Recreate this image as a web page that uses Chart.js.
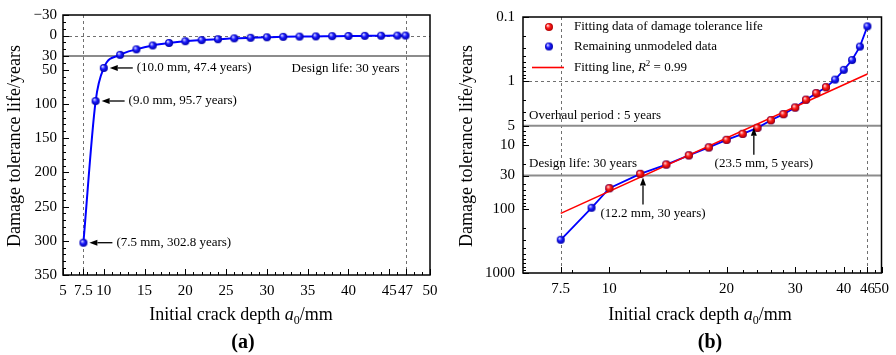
<!DOCTYPE html>
<html>
<head>
<meta charset="utf-8">
<script src="https://cdn.jsdelivr.net/npm/chart.js@4.4.1/dist/chart.umd.min.js"></script>
<style>
  html, body { margin: 0; padding: 0; background: #fff; }
  #wrap { position: relative; width: 896px; height: 355px; }
  canvas { position: absolute; top: 0; }
  #chartA { left: 0; }
  #chartB { left: 448px; }
</style>
</head>
<body>
<div id="wrap">
  <canvas id="chartA" width="448" height="355"></canvas>
  <canvas id="chartB" width="448" height="355"></canvas>
</div>
<script>
// initial crack depth (mm) and damage tolerance life (years)
const crackDepth = [7.5, 9, 10, 12, 14, 16, 18, 20, 22, 24, 26, 28, 30, 32, 34, 36, 38, 40, 42, 44, 46, 47];
const lifeYears = [302.8, 95.7, 47.4, 28.2, 20.2, 14.5, 10.9, 8.3, 6.7, 5.4, 4.1, 3.3, 2.6, 1.96, 1.55, 1.25, 0.95, 0.67, 0.47, 0.29, 0.14, 0.05];

// range of points used for the fit in (b)
const fitFrom = 10;
const fitTo = 36;
// ends of the fitting line (log-log straight line)
const fitLineX = [7.5, 46];
const fitLineY = [117, 0.78];

// tick labels
const xTicksA = [5, 7.5, 10, 15, 20, 25, 30, 35, 40, 45, 47, 50];
const yTicksA = [-30, 0, 30, 50, 100, 150, 200, 250, 300, 350];
const xTicksB = [7.5, 10, 20, 30, 40, 46, 50];
const yTicksB = [0.1, 1, 5, 10, 30, 100, 1000];

// reference values
const designLife = 30;
const overhaulPeriod = 5;

// annotated points
const notesA = [[10, 47.4, '(10.0 mm, 47.4 years)'], [9, 95.7, '(9.0 mm, 95.7 years)'], [7.5, 302.8, '(7.5 mm, 302.8 years)']];
const notesB = [[23.5, 5, '(23.5 mm, 5 years)'], [12.2, 30, '(12.2 mm, 30 years)']];

const SERIF = '"Liberation Serif", "Times New Roman", serif';
Chart.defaults.font.family = SERIF;
Chart.defaults.color = '#000';

function sphere(light, mid, dark, r) {
    const c = document.createElement('canvas');
    const s = 2 * r + 2;
    c.width = c.height = s;
    const g = c.getContext('2d');
    const m = s / 2;
    const grd = g.createRadialGradient(m - r * 0.35, m - r * 0.4, r * 0.1, m, m, r);
    grd.addColorStop(0, light);
    grd.addColorStop(0.45, mid);
    grd.addColorStop(1, dark);
    g.fillStyle = grd;
    g.beginPath();
    g.arc(m, m, r, 0, Math.PI * 2);
    g.fill();
    return c;
}
const blueBall = sphere('#d6d6ff', '#1a1aff', '#0000a8', 4);
const redBall = sphere('#ffd6d6', '#ff1a1a', '#b00000', 4);

function seq(a, b, step) {
    const out = [];
    for (let v = a; v <= b + 1e-9; v += step) out.push(+v.toFixed(6));
    return out;
}
function logMinors(lo, hi) {
    const out = [];
    for (let d = lo; d < hi; d *= 10) for (let k = 2; k <= 9; k++) out.push(k * d);
    return out;
}

function richText(ctx, parts, x, y, align) {
    let w = 0;
    parts.forEach(p => { ctx.font = p.font; p.w = ctx.measureText(p.t).width; w += p.w; });
    let cx = align === 'center' ? x - w / 2 : align === 'right' ? x - w : x;
    ctx.textAlign = 'left';
    parts.forEach(p => { ctx.font = p.font; ctx.fillText(p.t, cx, y + (p.dy || 0)); cx += p.w; });
}

function arrow(ctx, x1, y1, x2, y2) {
    const ang = Math.atan2(y2 - y1, x2 - x1), hl = 8, hw = 3;
    const bx = x2 - hl * Math.cos(ang), by = y2 - hl * Math.sin(ang);
    ctx.strokeStyle = '#000';
    ctx.fillStyle = '#000';
    ctx.lineWidth = 1.3;
    ctx.beginPath(); ctx.moveTo(x1, y1); ctx.lineTo(bx, by); ctx.stroke();
    ctx.beginPath();
    ctx.moveTo(x2, y2);
    ctx.lineTo(bx - hw * Math.sin(ang), by + hw * Math.cos(ang));
    ctx.lineTo(bx + hw * Math.sin(ang), by - hw * Math.cos(ang));
    ctx.closePath();
    ctx.fill();
}

function xTitle(ctx, x) {
    richText(ctx, [
        { t: 'Initial crack depth ', font: '18px ' + SERIF },
        { t: 'a', font: 'italic 18px ' + SERIF },
        { t: '0', font: '12px ' + SERIF, dy: 4 },
        { t: '/mm', font: '18px ' + SERIF }
    ], x, 320, 'center');
}

function decoPlugin(cfg) {
    return {
        id: 'deco',
        beforeDatasetsDraw(chart) {
            const { ctx, chartArea: a } = chart;
            const x = chart.scales.x, y = chart.scales.y;
            ctx.save();
            ctx.beginPath();
            ctx.rect(a.left, a.top, a.right - a.left, a.bottom - a.top);
            ctx.clip();
            ctx.strokeStyle = '#707070';
            ctx.lineWidth = 1;
            ctx.setLineDash([3, 3]);
            cfg.dashX.forEach(v => {
                const px = Math.round(x.getPixelForValue(v)) + 0.5;
                ctx.beginPath(); ctx.moveTo(px, a.top); ctx.lineTo(px, a.bottom); ctx.stroke();
            });
            cfg.dashY.forEach(v => {
                const py = Math.round(y.getPixelForValue(v)) + 0.5;
                ctx.beginPath(); ctx.moveTo(a.left, py); ctx.lineTo(a.right, py); ctx.stroke();
            });
            ctx.setLineDash([]);
            ctx.strokeStyle = '#8c8c8c';
            ctx.lineWidth = 2;
            cfg.solidY.forEach(v => {
                const py = y.getPixelForValue(v);
                ctx.beginPath(); ctx.moveTo(a.left, py); ctx.lineTo(a.right, py); ctx.stroke();
            });
            ctx.restore();
        },
        afterDraw(chart) {
            const { ctx, chartArea: a } = chart;
            const x = chart.scales.x, y = chart.scales.y;
            ctx.save();
            // inward ticks
            ctx.strokeStyle = '#000';
            ctx.lineWidth = 1;
            const tickX = (vals, len) => vals.forEach(v => {
                const px = Math.round(x.getPixelForValue(v)) + 0.5;
                ctx.beginPath(); ctx.moveTo(px, a.bottom); ctx.lineTo(px, a.bottom - len); ctx.stroke();
            });
            const tickY = (vals, len) => vals.forEach(v => {
                const py = Math.round(y.getPixelForValue(v)) + 0.5;
                ctx.beginPath(); ctx.moveTo(a.left, py); ctx.lineTo(a.left + len, py); ctx.stroke();
            });
            tickX(cfg.minorX, 3); tickX(cfg.majorX, 6);
            tickY(cfg.minorY, 3); tickY(cfg.majorY, 6);
            // frame
            ctx.lineWidth = 1.5;
            ctx.strokeRect(a.left, a.top, a.right - a.left, a.bottom - a.top);

            // titles
            ctx.fillStyle = '#000';
            ctx.textBaseline = 'alphabetic';
            xTitle(ctx, cfg.xTitleX);
            ctx.font = 'bold 20px ' + SERIF;
            ctx.textAlign = 'center';
            ctx.fillText(cfg.tag, cfg.tagX, 348);
            ctx.save();
            ctx.translate(cfg.yTitleX, 146);
            ctx.rotate(-Math.PI / 2);
            ctx.font = '18px ' + SERIF;
            ctx.textBaseline = 'middle';
            ctx.fillText('Damage tolerance life/years', 0, 0);
            ctx.restore();

            ctx.textBaseline = 'middle';
            cfg.extra(chart, ctx, a, x, y);
            ctx.restore();
        }
    };
}

function baseScales(xType, yType, xr, yr, xTicks, yTicks, yWidth, xHeight, yPad) {
    const fmt = v => (v < 0 ? '\u2212' + Math.abs(v) : String(v));
    return {
        x: {
            type: xType, min: xr[0], max: xr[1],
            grid: { display: false, drawTicks: false }, border: { display: false },
            afterBuildTicks: s => { s.ticks = xTicks.map(v => ({ value: v })); },
            afterFit: s => { s.height = xHeight; },
            ticks: { padding: 7, autoSkip: false, maxRotation: 0, font: { size: 15 }, callback: fmt }
        },
        y: {
            type: yType, min: yr[0], max: yr[1], reverse: true,
            grid: { display: false, drawTicks: false }, border: { display: false },
            afterBuildTicks: s => { s.ticks = yTicks.map(v => ({ value: v })); },
            afterFit: s => { s.width = yWidth; },
            ticks: { padding: yPad, autoSkip: false, font: { size: 15 }, callback: fmt }
        }
    };
}

const common = {
    responsive: false,
    animation: false,
    devicePixelRatio: 1,
    events: [],
    plugins: { legend: { display: false }, tooltip: { enabled: false } }
};

// ---- panel (a): linear axes ----
const ptsA = crackDepth.map((d, i) => ({ x: d, y: lifeYears[i] }));

new Chart(document.getElementById('chartA'), {
    type: 'line',
    data: {
        datasets: [{
            data: ptsA,
            borderColor: '#0000ff',
            borderWidth: 2,
            cubicInterpolationMode: 'monotone',
            pointStyle: blueBall,
            pointRadius: 4
        }]
    },
    options: Object.assign({}, common, {
        layout: { padding: { top: 13, right: 18, left: 0, bottom: 0 } },
        scales: baseScales('linear', 'linear', [5, 50], [-30, 350], xTicksA, yTicksA, 63, 80, 6)
    }),
    plugins: [decoPlugin({
        dashX: [7.5, 47], dashY: [0], solidY: [designLife],
        majorX: xTicksA, minorX: seq(5, 50, 1),
        majorY: yTicksA, minorY: seq(-30, 350, 10),
        xTitleX: 241, tagX: 243, tag: '(a)', yTitleX: 15,
        extra(chart, ctx, a, x, y) {
            ctx.font = '13px ' + SERIF;
            ctx.textAlign = 'left';
            notesA.forEach(([d, v, label]) => {
                const px = x.getPixelForValue(d), py = y.getPixelForValue(v);
                arrow(ctx, px + 29, py, px + 6, py);
                ctx.font = '13px ' + SERIF;
                ctx.textAlign = 'left';
                ctx.fillText(label, px + 33, py);
            });
            ctx.textAlign = 'right';
            ctx.fillText('Design life: 30 years', x.getPixelForValue(47) - 6, y.getPixelForValue(designLife) + 12.5);
        }
    })]
});

// ---- panel (b): log-log axes ----
const ptsB = ptsA.filter(p => p.y >= 0.1);
const ptsFit = ptsA.filter(p => p.x >= fitFrom && p.x <= fitTo);
const fitLine = fitLineX.map((d, i) => ({ x: d, y: fitLineY[i] }));

new Chart(document.getElementById('chartB'), {
    type: 'line',
    data: {
        datasets: [
            { data: ptsFit, showLine: false, pointStyle: redBall, pointRadius: 4, order: 0 },
            { data: fitLine, borderColor: '#ff0000', borderWidth: 1.6, pointRadius: 0, order: 1 },
            { data: ptsB, borderColor: '#0000ff', borderWidth: 1.8, pointStyle: blueBall, pointRadius: 4, order: 2 }
        ]
    },
    options: Object.assign({}, common, {
        layout: { padding: { top: 14, right: 8, left: 0, bottom: 0 } },
        scales: baseScales('logarithmic', 'logarithmic', [6, 50], [0.1, 1000], xTicksB, yTicksB, 75, 82, 8)
    }),
    plugins: [decoPlugin({
        dashX: [7.5, 46], dashY: [1], solidY: [overhaulPeriod, designLife],
        majorX: xTicksB, minorX: [8, 12, 14, 16, 18, 22, 24, 26, 28, 32, 34, 36, 38, 42, 44, 48],
        majorY: yTicksB, minorY: logMinors(0.1, 1000),
        xTitleX: 252, tagX: 262, tag: '(b)', yTitleX: 19.5,
        extra(chart, ctx, a, x, y) {
            ctx.font = '13px ' + SERIF;
            ctx.textAlign = 'left';
            ctx.fillText('Overhaul period : 5 years', a.left + 6, y.getPixelForValue(overhaulPeriod) - 10);
            ctx.fillText('Design life: 30 years', a.left + 6, y.getPixelForValue(designLife) - 11.5);
            notesB.forEach(([d, v, label]) => {
                const px = x.getPixelForValue(d), py = y.getPixelForValue(v);
                arrow(ctx, px, py + 29, px, py + 2);
                ctx.font = '13px ' + SERIF;
                ctx.textAlign = 'center';
                ctx.fillText(label, px + 10, py + 38);
            });
            // legend
            const lx = a.left, ly = a.top;
            ctx.drawImage(redBall, lx + 26 - 5, ly + 10 - 5);
            ctx.drawImage(blueBall, lx + 26 - 5, ly + 29.5 - 5);
            ctx.strokeStyle = '#ff0000';
            ctx.lineWidth = 1.6;
            ctx.beginPath(); ctx.moveTo(lx + 9, ly + 50.5); ctx.lineTo(lx + 41, ly + 50.5); ctx.stroke();
            ctx.fillStyle = '#000';
            ctx.font = '13px ' + SERIF;
            ctx.textAlign = 'left';
            ctx.fillText('Fitting data of damage tolerance life', lx + 51, ly + 10);
            ctx.fillText('Remaining unmodeled data', lx + 51, ly + 29.5);
            richText(ctx, [
                { t: 'Fitting line, ', font: '13px ' + SERIF },
                { t: 'R', font: 'italic 13px ' + SERIF },
                { t: '2', font: '9px ' + SERIF, dy: -4 },
                { t: ' = 0.99', font: '13px ' + SERIF }
            ], lx + 51, ly + 50.5, 'left');
        }
    })]
});
</script>
</body>
</html>
